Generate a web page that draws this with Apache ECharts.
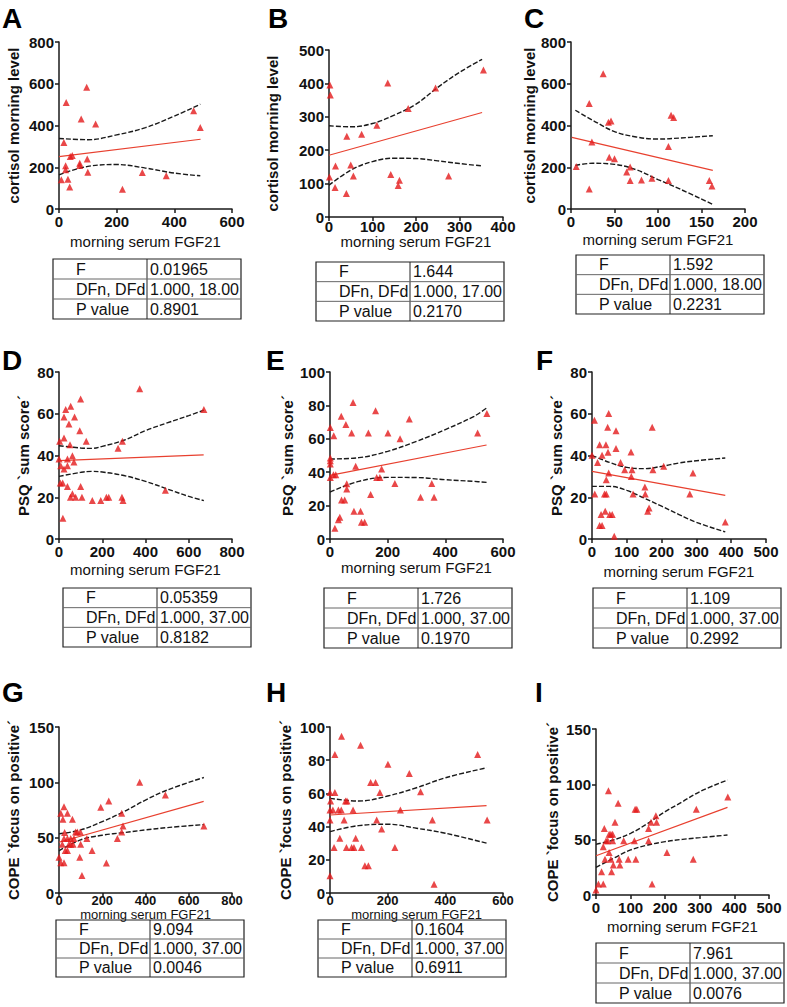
<!DOCTYPE html>
<html>
<head>
<meta charset="utf-8">
<script src="https://cdn.jsdelivr.net/npm/echarts@6/dist/echarts.min.js"></script>
<style>
  html, body { margin: 0; padding: 0; background: #fff; }
  #chart { width: 787px; height: 1007px; }
</style>
</head>
<body>
<div id="chart"></div>
<script>
// ---- data ----
// A: cortisol morning level vs FGF21
const ptsA = [[96,583],[25,510],[77,431],[127,407],[17,318],[39,251],[46,256],[98,240],[72,219],[72,208],
  [23,207],[23,188],[8,140],[31,143],[37,105],[100,176],[220,95],[289,175],[372,159],[467,471],[490,390]]
const fitA = [[0,251],[491,334]]
const bandXA = [0,100,200,300,400,490]
const upA = [338,332,355,390,445,502]
const loA = [164,204,213,196,172,159]

// B
const ptsB = [[2,395],[3,365],[1,120],[15,153],[14,88],[41,242],[40,70],[50,156],[56,123],[75,248],
  [110,275],[135,401],[142,127],[162,110],[159,94],[182,325],[245,386],[275,123],[355,440]]
const fitB = [[0,185],[352,313]]
const bandXB = [0,50,100,150,200,250,300,352]
const upB = [273,270,280,305,338,388,433,472]
const loB = [95,140,166,176,175,168,160,153]

// C
const ptsC = [[6,204],[21,505],[21,96],[24,321],[37,648],[43,415],[46,422],[44,248],[50,241],[64,177],
  [68,201],[68,136],[81,139],[93,147],[112,299],[112,136],[115,449],[118,438],[159,136],[162,110]]
const fitC = [[1,343],[163,185]]
const bandXC = [5,25,50,75,100,125,163]
const upC = [473,425,371,345,335,340,351]
const loC = [209,219,214,188,141,96,22]

// D: PSQ sum score
const ptsD = [[3,46.8],[0,38.3],[8,35.1],[23,33.5],[39,35.1],[39,38.3],[6,26.8],[17,26.8],[39,25.2],[23,48.4],
  [23,58.5],[31,62],[46,55.1],[54,63.6],[51,45.2],[62,39.9],[72,58.5],[69,36.9],[62,21.7],[53,20],
  [77,20],[96,51.9],[100,67.1],[100,25.2],[106,20],[126,46.8],[18,10],[154,18.4],[193,18.4],[219,20],
  [230,20],[273,43.5],[293,46.8],[291,20],[296,18.4],[373,72],[492,23.3],[670,62]]
const fitD = [[0,37.5],[669,40.3]]
const bandXD = [0,100,150,200,300,400,500,600,670]
const upD = [44.7,43.6,43.4,44.4,47.3,51.9,55.6,59.1,61.7]
const loD = [30,31.9,32.4,32.1,30.4,27.6,24,20.4,18.4]

// E
const ptsE = [[1,66.7],[1,48.5],[1,46.9],[1,44.9],[1,36.9],[13,61.9],[12,38.5],[20,38.5],[17,6.4],[29,11.6],
  [34,13],[39,73.5],[40,23.4],[51,23.4],[55,68.5],[58,33.1],[58,29.9],[75,63.5],[80,81.8],[83,16.6],
  [89,43.5],[106,16.6],[109,10],[120,10],[133,63.5],[141,26.7],[158,76.8],[162,36.9],[173,36.9],[179,41.9],
  [201,63.5],[225,33.3],[243,60.1],[275,71.9],[314,25],[353,33.3],[361,25],[512,63.5],[544,75.2]]
const fitE = [[0,38.1],[543,56.3]]
const bandXE = [0,100,200,300,400,500,543]
const upE = [47.9,48.7,52.5,58.5,65.5,73.5,78.4]
const loE = [28.1,34.5,36.9,36.8,35.5,34.5,33.9]

// F
const ptsF = [[0,40.1],[7,56.9],[8,21.6],[16,36.7],[22,45.2],[29,40.1],[22,6.5],[29,6.5],[26,11.7],[36,21.6],
  [41,21.6],[38,13.3],[40,45.2],[41,28.4],[45,53.5],[46,41.5],[48,60.1],[48,31.6],[51,11.7],[58,11.7],
  [64,1.3],[69,51.9],[69,43.3],[82,36.7],[94,33.2],[112,41.7],[113,30],[115,33.2],[118,21.6],[152,24.9],
  [153,21.6],[160,13.3],[164,14.9],[173,53.5],[175,33.2],[206,34.8],[281,21.6],[290,31.6],[383,8.1]]
const fitF = [[0,32.4],[383,20.9]]
const bandXF = [0,50,100,150,200,250,300,383]
const upF = [40.1,36.7,34.3,33.7,34.8,36.4,37.5,38.8]
const loF = [25.2,25.2,23.3,19.6,15.7,11.7,8,3.4]

// G: COPE focus on positive
const ptsG = [[0,32.4],[8,27.3],[23,27.3],[8,72],[23,78],[18,66.6],[15,44.1],[26,54.6],[23,49.2],[39,49.2],
  [29,38.4],[39,38.4],[39,72],[46,44.1],[54,44.1],[54,49.2],[62,66.6],[65,44.1],[69,49.2],[77,55.2],
  [85,55.2],[99,55.2],[96,32.4],[100,44.1],[106,15.9],[129,49.2],[153,38.4],[193,77.4],[219,27],[230,83.1],
  [270,49.2],[290,72],[290,55.2],[296,60.6],[373,100],[492,88.5],[670,60.6]]
const fitG = [[0,45.9],[669,82.8]]
const bandXG = [0,100,200,300,400,500,670]
const upG = [53.4,57,64.5,73.5,84,93,104.4]
const loG = [38.1,48,52.2,54.6,57,59.1,61.8]

// H
const ptsH = [[0,60.6],[2,55.4],[0,50],[0,44],[0,10.4],[10,50],[17,83.4],[17,60.6],[14,27.4],[29,50],
  [39,50],[34,33],[40,94.4],[49,44],[54,55.4],[59,55.4],[57,27.4],[75,27.4],[83,27.4],[80,50],
  [89,33],[106,89],[109,27.4],[121,16.4],[133,16.4],[141,66.6],[158,66.6],[162,44],[173,60.6],[179,38.6],
  [201,77.6],[225,27.4],[244,50],[275,72],[314,61],[355,44],[361,5.2],[512,83.4],[545,44]]
const fitH = [[0,47],[543,52.6]]
const bandXH = [0,100,200,300,400,543]
const upH = [57,55.4,58.4,63.4,69.4,75.4]
const loH = [37,40.6,41.4,39,36,30]

// I
const ptsI = [[0,4.5],[7,10],[21,10],[16,21],[21,43.7],[24,60],[26,32.2],[29,49.1],[36,94.3],[38,38.3],
  [38,54.8],[43,54.8],[48,54.8],[34,49.1],[48,49.1],[43,32.2],[45,21],[50,27.1],[55,65.7],[64,82.8],
  [67,32.2],[69,27.1],[80,49.1],[93,32.2],[111,49.1],[113,77.4],[118,77.4],[115,32.2],[152,60.2],[152,49.1],
  [159,65.7],[162,10],[173,71.7],[175,65.7],[205,38.3],[281,32.2],[290,77.4],[381,88.6]]
const fitI = [[0,35.5],[380,79.2]]
const bandXI = [0,50,100,150,200,250,300,380]
const upI = [45.8,49.7,55.7,64.8,75.3,84.3,93.4,103.9]
const loI = [25,33.1,40.7,45.2,48.2,50.3,51.8,54.2]

// axis ranges
const xMax = [600,400,200,800,600,500,800,600,500]
const xStep = [200,100,50,200,200,100,200,200,100]
const yMax = [800,500,800,80,100,80,150,100,150]
const yStep = [200,100,200,20,20,20,50,20,50]

const letters = ['A','B','C','D','E','F','G','H','I']
const yTitles = ['cortisol morning level','cortisol morning level','cortisol morning level',
  'PSQ `sum score´','PSQ `sum score´','PSQ `sum score´',
  'COPE `focus on positive´','COPE `focus on positive´','COPE `focus on positive´']
const xTitle = 'morning serum FGF21'

// table contents
const rowLabels = ['F','DFn, DFd','P value']
const statF = ['0.01965','1.644','1.592','0.05359','1.726','1.109','9.094','0.1604','7.961']
const statDf = ['1.000, 18.00','1.000, 17.00','1.000, 18.00','1.000, 37.00','1.000, 37.00','1.000, 37.00','1.000, 37.00','1.000, 37.00','1.000, 37.00']
const statP = ['0.8901','0.2170','0.2231','0.8182','0.1970','0.2992','0.0046','0.6911','0.0076']

const pts = [ptsA,ptsB,ptsC,ptsD,ptsE,ptsF,ptsG,ptsH,ptsI]
const fits = [fitA,fitB,fitC,fitD,fitE,fitF,fitG,fitH,fitI]
const bandX = [bandXA,bandXB,bandXC,bandXD,bandXE,bandXF,bandXG,bandXH,bandXI]
const ups = [upA,upB,upC,upD,upE,upF,upG,upH,upI]
const los = [loA,loB,loC,loD,loE,loF,loG,loH,loI]

// ---- layout (pixels) ----
const grids = [
  {left:59, top:42, width:173, height:167},
  {left:329, top:50, width:174, height:167},
  {left:571, top:42, width:174, height:167},
  {left:59, top:372, width:173, height:167},
  {left:330, top:372, width:173, height:167},
  {left:592, top:372, width:174, height:167},
  {left:59, top:727, width:173, height:166},
  {left:330, top:727, width:173, height:166},
  {left:596, top:729, width:173, height:166}
]
const yGap = [38, 49, 34, 28, 35, 28, 38, 37, 36]
const xGap = [25, 17, 23, 23, 21, 25, 15, 15, 24]
const xLabelMargin = [5, 2, 5, 5, 5, 5, 1, 1, 5]
const xFont = [15, 15, 15, 15, 15, 15, 13, 13, 15]
const letterPos = [[2,4],[268,4],[524,4],[2,346],[266,346],[536,346],[2,678],[266,678],[535,678]]
// tables: divider x, top y, height; box spans divider +-94
const tables = [
  {d:147, y:259, h:60},
  {d:410, y:262, h:59},
  {d:670, y:255, h:59},
  {d:157, y:588, h:59},
  {d:418, y:588, h:60},
  {d:687, y:588, h:60},
  {d:150, y:920, h:57},
  {d:412, y:920, h:57},
  {d:690, y:943, h:60}
]

const FONT = '"Liberation Sans", Arial, sans-serif'
const axisCommon = {
  axisLine: { lineStyle: { color: '#1a1a1a', width: 1.5 } },
  axisTick: { show: true, length: 4, lineStyle: { color: '#1a1a1a', width: 1.5 } },
  splitLine: { show: false }
}

const xAxis = [], yAxis = [], series = [], graphic = []
for (let i = 0; i < 9; i++) {
  xAxis.push({
    ...axisCommon, gridIndex: i, type: 'value', min: 0, max: xMax[i], interval: xStep[i],
    name: xTitle, nameLocation: 'middle', nameGap: xGap[i], nameMoveOverlap: false,
    nameTextStyle: { fontFamily: FONT, fontSize: xFont[i], color: '#111' },
    axisLabel: { fontFamily: FONT, fontSize: xFont[i], fontWeight: 'bold', color: '#111', margin: xLabelMargin[i] }
  })
  yAxis.push({
    ...axisCommon, gridIndex: i, type: 'value', min: 0, max: yMax[i], interval: yStep[i],
    name: yTitles[i], nameLocation: 'middle', nameGap: yGap[i], nameMoveOverlap: false,
    nameTextStyle: { fontFamily: FONT, fontSize: 15, fontWeight: 'bold', color: '#111' },
    axisLabel: { fontFamily: FONT, fontSize: 15, fontWeight: 'bold', color: '#111', margin: 5 }
  })
  series.push({
    type: 'scatter', xAxisIndex: i, yAxisIndex: i, data: pts[i],
    symbol: 'triangle', symbolSize: 7, itemStyle: { color: '#e31a1c' }, z: 3
  })
  series.push({
    type: 'line', xAxisIndex: i, yAxisIndex: i, data: fits[i], symbol: 'none',
    lineStyle: { color: '#e8402f', width: 1.2 }, z: 2
  })
  const up = bandX[i].map((x, k) => [x, ups[i][k]])
  const lo = bandX[i].map((x, k) => [x, los[i][k]])
  for (const band of [up, lo]) {
    series.push({
      type: 'line', xAxisIndex: i, yAxisIndex: i, data: band, symbol: 'none', smooth: 0.4,
      lineStyle: { color: '#1a1a1a', width: 1.4, type: [5, 2] }, z: 2
    })
  }

  // panel letter
  graphic.push({
    type: 'text', left: letterPos[i][0], top: letterPos[i][1],
    style: { text: letters[i], font: 'bold 28px ' + FONT, fill: '#000' }
  })

  // stats table
  const t = tables[i]
  const x0 = t.d - 94, w = 188
  const rh = t.h / 3
  graphic.push({ type: 'rect', shape: { x: x0, y: t.y, width: w, height: t.h },
    style: { fill: 'none', stroke: '#222', lineWidth: 1.2 } })
  graphic.push({ type: 'line', shape: { x1: t.d, y1: t.y, x2: t.d, y2: t.y + t.h },
    style: { stroke: '#222', lineWidth: 1 } })
  for (let r = 1; r < 3; r++) {
    graphic.push({ type: 'line', shape: { x1: x0, y1: t.y + rh * r, x2: x0 + w, y2: t.y + rh * r },
      style: { stroke: '#666', lineWidth: 1 } })
  }
  const vals = [statF[i], statDf[i], statP[i]]
  for (let r = 0; r < 3; r++) {
    graphic.push({ type: 'text', x: t.d - 71, y: t.y + rh * r + rh / 2,
      style: { text: rowLabels[r], font: '16px ' + FONT, fill: '#111', verticalAlign: 'middle' } })
    graphic.push({ type: 'text', x: t.d + 3, y: t.y + rh * r + rh / 2,
      style: { text: vals[r], font: '16px ' + FONT, fill: '#111', verticalAlign: 'middle' } })
  }
}

const chart = echarts.init(document.getElementById('chart'), null, { renderer: 'svg' })
chart.setOption({
  animation: false,
  backgroundColor: '#fff',
  grid: grids,
  xAxis: xAxis,
  yAxis: yAxis,
  series: series,
  graphic: graphic
})
</script>
</body>
</html>
